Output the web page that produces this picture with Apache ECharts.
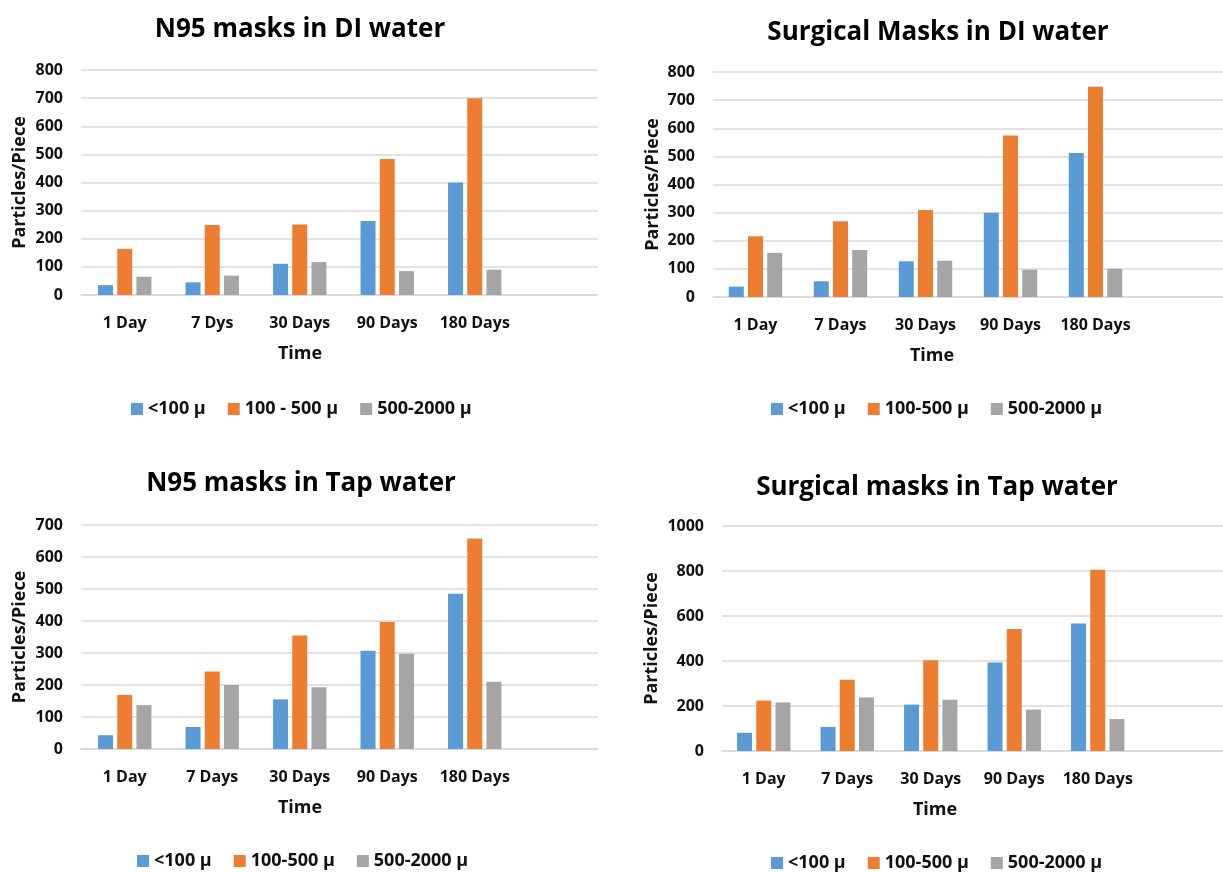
<!DOCTYPE html>
<html>
<head>
<meta charset="utf-8">
<script src="https://cdn.jsdelivr.net/npm/echarts@6/dist/echarts.min.js"></script>
<style>
  html, body { margin: 0; padding: 0; background: #ffffff; }
  #chart { width: 1223px; height: 872px; }
</style>
</head>
<body>
<div id="chart"></div>
<script>
// Time points (first panel spells the second one "7 Dys")
const timesA = ['1 Day', '7 Dys', '30 Days', '90 Days', '180 Days'];
const timesB = ['1 Day', '7 Days', '30 Days', '90 Days', '180 Days'];

// Size classes
const sizeNamesA = ['<100 μ', '100 - 500 μ', '500-2000 μ'];
const sizeNamesB = ['<100 μ', '100-500 μ', '500-2000 μ'];

// N95 masks in DI water (particles per piece)
const n95DiSmall = [35, 45, 111, 263, 400];
const n95DiMid = [164, 249, 251, 484, 700];
const n95DiLarge = [65, 69, 117, 85, 90];

// Surgical masks in DI water
const surgDiSmall = [37, 56, 127, 300, 512];
const surgDiMid = [216, 269, 309, 574, 748];
const surgDiLarge = [157, 167, 129, 97, 100];

// N95 masks in tap water
const n95TapSmall = [43, 69, 155, 307, 485];
const n95TapMid = [169, 242, 355, 397, 658];
const n95TapLarge = [137, 200, 193, 298, 210];

// Surgical masks in tap water
const surgTapSmall = [81, 107, 206, 393, 567];
const surgTapMid = [224, 317, 403, 542, 806];
const surgTapLarge = [216, 238, 228, 184, 142];

const panelTitles = ['N95 masks in DI water', 'Surgical Masks in DI water', 'N95 masks in Tap water', 'Surgical masks in Tap water'];
const yName = 'Particles/Piece';
const xName = 'Time';

const colors = ['#5B9BD5', '#ED7D31', '#A5A5A5'];
const FONT = '"Open Sans", "DejaVu Sans", sans-serif';
const TXT = '#111111';
const GRIDLINE = '#D9D9D9';

// Panel layout: plot box, axis range, title / axis-name / legend anchors
const panels = [
  { cats: timesA, names: sizeNamesA, data: [n95DiSmall, n95DiMid, n95DiLarge],
    left: 81, top: 70, step: 87.5, height: 225, max: 800, interval: 100, yGap: 52,
    title: [300, 30], time: [300, 354], legend: [131, 400] },
  { cats: timesB, names: sizeNamesB, data: [surgDiSmall, surgDiMid, surgDiLarge],
    left: 713, top: 72, step: 87.25, height: 225, max: 800, interval: 100, yGap: 51,
    title: [938, 33], time: [932, 356], legend: [771, 400] },
  { cats: timesB, names: sizeNamesB, data: [n95TapSmall, n95TapMid, n95TapLarge],
    left: 81, top: 525, step: 87.5, height: 224, max: 700, interval: 100, yGap: 52,
    title: [301, 484], time: [300, 808], legend: [137, 852] },
  { cats: timesB, names: sizeNamesB, data: [surgTapSmall, surgTapMid, surgTapLarge],
    left: 722, top: 526, step: 85.25, height: 225, max: 1000, interval: 200, yGap: 61,
    title: [937, 488], time: [935, 810], legend: [771, 854] }
];

const grid = [], xAxis = [], yAxis = [], series = [], legend = [], graphic = [];

panels.forEach((p, i) => {
  // one spare empty slot on the right keeps the plot box wider than the five groups
  grid.push({ left: p.left, top: p.top, width: p.step * 6, height: p.height, containLabel: false });
  xAxis.push({
    type: 'category', gridIndex: i, data: p.cats.concat(['']),
    axisTick: { show: false },
    axisLine: { lineStyle: { color: GRIDLINE, width: 1.5 } },
    axisLabel: { interval: 0, color: TXT, fontFamily: FONT, fontWeight: 'bold', fontSize: 16, margin: 20 }
  });
  yAxis.push({
    type: 'value', gridIndex: i, min: 0, max: p.max, interval: p.interval,
    name: yName, nameLocation: 'middle', nameGap: p.yGap, nameRotate: 90,
    nameTextStyle: { color: TXT, fontFamily: FONT, fontWeight: 'bold', fontSize: 18 },
    axisLine: { show: false }, axisTick: { show: false },
    axisLabel: { color: TXT, fontFamily: FONT, fontWeight: 'bold', fontSize: 16, margin: 18,
      formatter: v => String(v) },
    splitLine: { lineStyle: { color: GRIDLINE, width: 1.5 } }
  });
  p.names.forEach((n, k) => {
    series.push({
      type: 'bar', name: n, xAxisIndex: i, yAxisIndex: i, data: p.data[k],
      barWidth: 15, barGap: '28%',
      itemStyle: { color: colors[k] }
    });
  });
  legend.push({
    left: p.legend[0], top: p.legend[1], data: p.names, padding: 0,
    icon: 'rect', itemWidth: 12, itemHeight: 12, itemGap: 22,
    textStyle: { color: TXT, fontFamily: FONT, fontWeight: 'bold', fontSize: 18 },
    selectedMode: false
  });
  graphic.push({
    type: 'text', x: p.title[0], y: p.title[1], z: 100,
    style: { text: panelTitles[i], fill: '#000', font: 'bold 26px ' + FONT, align: 'center', verticalAlign: 'middle' }
  });
  graphic.push({
    type: 'text', x: p.time[0], y: p.time[1], z: 100,
    style: { text: xName, fill: TXT, font: 'bold 18px ' + FONT, align: 'center', verticalAlign: 'middle' }
  });
});

// trim the left-hand panels' gridlines where the right-hand panels begin
graphic.push({ type: 'rect', z: 100, shape: { x: 598, y: 55, width: 14, height: 250 }, style: { fill: '#ffffff' } });
graphic.push({ type: 'rect', z: 100, shape: { x: 598, y: 510, width: 14, height: 250 }, style: { fill: '#ffffff' } });

const chart = echarts.init(document.getElementById('chart'), null, { renderer: 'canvas' });
chart.setOption({
  animation: false,
  backgroundColor: '#ffffff',
  grid, xAxis, yAxis, series, legend, graphic
});
</script>
</body>
</html>
